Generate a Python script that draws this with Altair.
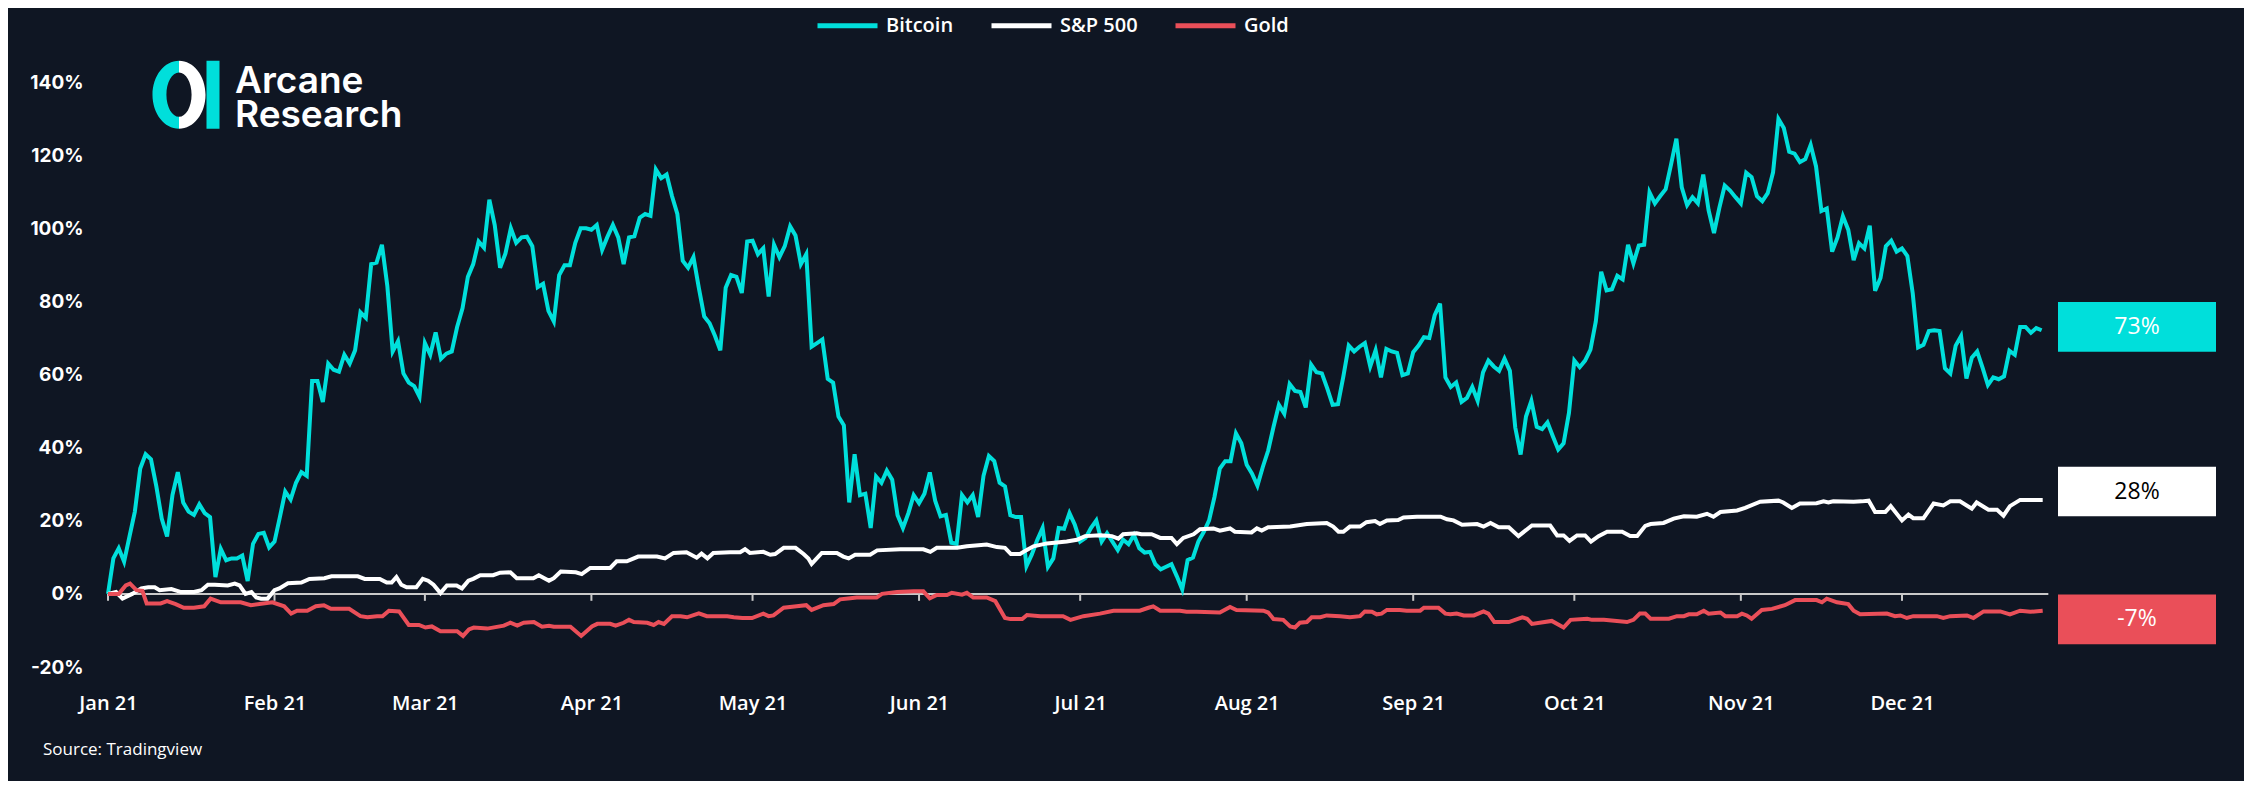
import altair as alt
import pandas as pd

BG = "#0f1623"
TEAL = "#00dfdb"
RED = "#ea4f59"
WHITE = "#ffffff"

# Bitcoin, % change since 1 Jan 2021, one value per day from 1 Jan
btc = [0, 9.7, 12.5, 8.8, 15.7, 22.5, 34.3, 38.2, 36.8, 29.4,
       20.6, 15.7, 27, 33.3, 25, 22.5, 21.6, 24.5, 22.1, 21,
       4.6, 12.3, 9.2, 9.7, 9.7, 10.5, 3.5, 13.7, 16.4, 16.7,
       12.7, 14.3, 21, 28, 25.8, 30.4, 33.3, 32.3, 58.2, 58.2,
       52.5, 63, 61.3, 60.8, 65.4, 63, 66.6, 77, 75.5, 90.2,
       90.6, 95.5, 84.3, 66.3, 69.1, 60.3, 57.8, 56.8, 53.9, 68.6,
       65.4, 71.5, 64.3, 65.7, 66.3, 73, 78.1, 86.7, 90.2, 96.4,
       94.7, 107.8, 100.9, 89.2, 93.1, 100, 96, 97.5, 97.7, 95.1,
       83.9, 84.8, 77.4, 74.5, 87.2, 89.9, 89.9, 96, 100, 100,
       99.6, 100.9, 94.1, 97.7, 100.9, 97.5, 90.2, 97.5, 97.8, 102.9,
       103.9, 103.4, 116.1, 113.7, 114.7, 108.8, 103.9, 91.1, 89.2, 92.1,
       83.7, 75.9, 74, 70.6, 66.6, 83.7, 87.2, 86.7, 82.3, 96.4,
       96.6, 92.9, 94.5, 81.3, 95.5, 92.1, 95.1, 100.5, 98, 90.2,
       92.9, 67.6, 68.6, 69.6, 58.8, 57.8, 48.5, 46.1, 25, 38.2,
       27, 27.4, 18, 32.1, 30.4, 33.7, 31.2, 21.5, 18, 22,
       27, 24.8, 27.4, 33.2, 25.5, 21.2, 21.6, 14, 13.7, 27,
       25, 27, 21, 32.3, 37.7, 36.3, 30.4, 29.4, 21.5, 21,
       21, 7.6, 10.8, 14.7, 18, 7.4, 9.7, 18, 17.8, 22.1,
       18.9, 14.3, 15.3, 18, 20.1, 14.3, 16.6, 14.3, 12, 14.8,
       13.6, 16.1, 12.5, 11.3, 11.5, 8.1, 6.7, 7.4, 8.1, 4.8,
       1.2, 9.2, 9.9, 14.3, 16.9, 20.1, 26.5, 34.3, 36.3, 36.3,
       43.9, 41.2, 35.3, 32.9, 29.6, 34.7, 39.2, 45.7, 51.7, 49.3,
       57.4, 55.5, 55.2, 51, 62.7, 60.6, 60.3, 56.2, 51.7, 51.9,
       59.5, 67.9, 66.3, 67.6, 68.6, 62.2, 66.6, 59.2, 67, 66.3,
       65.9, 59.8, 60.3, 66.1, 67.9, 70.2, 70, 76.2, 79.4, 59.2,
       56.6, 57.8, 52.5, 53.6, 56.6, 52.8, 60.6, 63.8, 62.2, 61,
       64.3, 61, 45.5, 38.1, 48.5, 52.8, 45.7, 45.1, 46.9, 43.1,
       39.5, 41.2, 49.5, 63.8, 62, 63.8, 66.8, 74.5, 88.1, 83,
       83.3, 87, 86, 95.5, 90.4, 95.3, 95.5, 109.8, 106.8, 108.8,
       110.7, 117.4, 124.5, 111.2, 106.3, 108.5, 106.8, 114.7, 104.9, 98.7,
       105.6, 111.7, 110.3, 108.5, 106.8, 115.2, 114, 108.8, 107.4, 109.6,
       115.3, 129.9, 127.4, 120.9, 120.4, 118.1, 118.9, 122.8, 116.9, 104.7,
       105.4, 93.6, 97.5, 103.3, 99.6, 91.3, 95.9, 94.5, 100.7, 82.9,
       86.4, 95.1, 96.6, 93.6, 94.5, 92.4, 82.2, 67.4, 68.1, 71.9,
       72.1, 71.9, 61.7, 60.3, 67.9, 70.5, 58.9, 64.6, 66.3, 61.9,
       57.1, 59.2, 58.7, 59.5, 66.5, 65.4, 73, 73, 71.4, 72.7,
       72.1]

# S&P 500: (days since 1 Jan, % change)
sp_days = [0, 1.5, 2.7, 4.5, 6.2, 7.5, 8.7, 9.6, 11.8, 13.6, 16, 17.4, 18.6, 19.9, 22.3, 23.6, 24.5,
           25.6, 26.7, 27.6, 28.5, 29.7, 31, 31.9, 33.5, 36, 37.5, 40.3, 41.6, 46.5, 47.8, 50.6, 51.9,
           52.8, 53.7, 54.6, 55.6, 57.4, 58.6, 59.6, 60.6, 61.9, 63.1, 64.9, 65.9, 67.1, 68, 69.3, 71.7,
           73, 74.9, 76.1, 79.2, 80.2, 82.1, 83, 84.3, 87.1, 88.2, 89.8, 93.5, 94.7, 96.6, 98.7, 102.2,
           103.7, 105.3, 107.7, 109.6, 110.5, 111.6, 112.7, 115.8, 117.7, 118.6, 119.5, 122, 123.3, 124.2,
           125.8, 128, 129.5, 130.4, 131, 132.9, 135.7, 136.9, 137.9, 139.1, 141.9, 143.2, 147.5, 151.8,
           153.1, 154.3, 158.1, 159.9, 163.6, 165.5, 167, 168.1, 169.8, 170.9, 172.3, 174.8, 178.5, 180.4,
           181.9, 184.7, 186.9, 188.1, 189, 191.5, 192.4, 194.3, 195.9, 198, 199, 200.2, 202.1, 203.3,
           205.8, 207, 208.9, 209.8, 212.9, 213.9, 214.8, 216, 220.1, 223.2, 226.9, 228.1, 229.1, 230,
           231.2, 233.1, 234.3, 235.9, 236.8, 238.1, 240.2, 241.2, 243.7, 248.1, 249.3, 250.5, 252.1,
           254.9, 256.1, 257.4, 258.9, 260.8, 262.6, 265.1, 268.5, 269.8, 271, 272.1, 273.5, 275, 276.1,
           277.5, 279.1, 281.9, 283.4, 284.7, 286.2, 287.2, 289.6, 291.5, 293.4, 295.8, 297.7, 298.9,
           300.2, 303.3, 304.8, 307.6, 311, 311.9, 313.5, 315, 318.1, 319.4, 320.3, 321.2, 325, 326.5,
           327.8, 329, 330.9, 331.9, 334, 335.2, 336.1, 338, 339.9, 341.7, 343, 344.8, 347, 347.9, 350.1,
           351.7, 352.9, 354.1, 356, 360.2]
sp_vals = [0, 0.5, -1.3, 0, 1.5, 1.8, 1.8, 1, 1.3, 0.5, 0.5, 1, 2.5, 2.5, 2.3, 2.8, 2.3,
           0, 0.5, -1, -1.3, -1.3, 1, 1.5, 2.9, 3.1, 4.1, 4.3, 4.8, 4.8, 4.1, 4.1, 3.1,
           3.1, 4.6, 2.5, 1.8, 1.8, 4.1, 3.6, 2.5, 0.2, 2.3, 2.3, 1.5, 3.6, 4.1, 5.1, 5.1,
           5.8, 5.9, 4.3, 4.3, 5.1, 3.6, 4.3, 6.1, 5.9, 5.4, 7.1, 7.1, 8.9, 8.9, 10.2, 10.2,
           9.7, 11.2, 11.4, 9.9, 11, 9.7, 11.2, 11.4, 11.4, 12.2, 11.2, 11.5, 10.7, 10.9,
           12.6, 12.6, 10.9, 9.7, 8.2, 11.2, 11.2, 10.2, 9.7, 10.7, 10.7, 11.9, 12.2, 12.2,
           11.5, 12.6, 12.6, 13, 13.5, 12.8, 12.6, 10.9, 10.9, 11.9, 13, 13.8, 14.3, 14.8,
           15.8, 16, 15.8, 15.1, 16.3, 16.6, 16.3, 16.3, 15.3, 15.3, 13.6, 15.3, 16.3, 17.7,
           17.9, 17.3, 17.9, 17, 16.8, 17.9, 17.3, 18.2, 18.4, 19.1, 19.4, 18.4, 17, 17,
           18.4, 18.4, 19.6, 19.9, 19.1, 20.1, 20.2, 20.9, 21.1, 21.1, 20.4, 20.1, 18.9,
           19.1, 18.4, 19.4, 18.2, 18.2, 15.8, 18.7, 18.7, 16, 16, 14.5, 16, 16, 14.3,
           15.8, 17, 17, 15.8, 15.8, 18.6, 19.1, 19.4, 20.6, 21.2, 21.1, 21.9, 21.1,
           22.4, 22.8, 23.5, 25.2, 25.5, 25, 23.5, 24.7, 24.8, 25.3, 25, 25.3, 25.2, 25.3,
           25.5, 22.4, 22.4, 24, 20.1, 21.7, 20.7, 20.7, 24.7, 24.2, 25.3, 25.3, 23.3, 25, 23,
           23, 21.4, 24, 25.7, 25.7]

# Gold: (days since 1 Jan, % change)
gold_days = [0, 2, 3.3, 4.1, 5.3, 6.4, 7.2, 9.8, 11, 12.6, 14.1, 16, 17.9, 19.1, 21, 24.7, 26.6,
             30.6, 32.8, 34.1, 35.2, 37.1, 38.7, 40.2, 41.5, 44.9, 47, 48.3, 50.1, 51.1, 52.3, 54.2,
             56, 57.9, 59.1, 60.3, 61.9, 65, 66.1, 67.2, 68.1, 70.6, 73.7, 74.9, 76.2, 77.4, 79.3,
             80.8, 82.1, 83, 86.1, 88.1, 90.1, 91.1, 93.5, 94.5, 96, 97, 97.9, 100.4, 101.6, 102.5,
             103.5, 105, 106.6, 107.8, 110, 111.5, 113.4, 115.3, 116.5, 118.1, 119.9, 122, 123,
             123.9, 125.8, 128.2, 130, 131, 133.2, 135.1, 136.3, 138.2, 139.4, 143.1, 144.1, 146.9,
             150, 151.8, 153, 154.3, 156.2, 157.1, 159, 159.9, 161.1, 163.6, 165.2, 167, 168, 170.2,
             171.1, 173.6, 177.8, 179.2, 181.6, 184.7, 187.2, 192.1, 193.7, 194.6, 195.9, 199.6,
             200.8, 202.7, 207, 208.9, 210.1, 215.1, 216, 217, 218.8, 220.1, 221, 221.9, 223.2,
             224.1, 225.7, 226.9, 229.4, 231.2, 233.1, 234, 235.3, 236.2, 237.1, 238.1, 240.5,
             241.8, 244.3, 245, 247.7, 249, 249.9, 251.1, 252.4, 254.3, 256.1, 257, 258.1, 260.8,
             263.3, 264.2, 265.1, 268.8, 271, 272.3, 275.4, 276.3, 278.5, 282.8, 284, 285.2, 286.2,
             287.2, 290.6, 292.1, 293.4, 294.3, 295.8, 297.1, 298, 300.2, 301.1, 303.3, 304.2,
             305.1, 306, 307.9, 309.8, 312.2, 314.1, 318.1, 319.1, 320, 321.9, 324, 325, 326.2,
             331.2, 332.7, 333.7, 334.9, 336.1, 340.5, 341.7, 343, 346.1, 347.3, 349.2, 352.3,
             354.1, 356, 357.9, 360.2]
gold_vals = [0, 0, 2.3, 2.8, 1, 0.8, -2.6, -2.6, -2, -2.8, -3.8, -3.8, -3.4, -1.3, -2.3, -2.3, -3.1,
             -2.3, -3.4, -5.4, -4.6, -4.6, -3.4, -3.1, -4.1, -4.1, -6.1, -6.4, -6.1, -6.1, -4.6, -4.8,
             -8.5, -8.5, -9.2, -8.9, -10.2, -10.2, -11.5, -9.7, -9.2, -9.5, -8.7, -7.9, -8.7, -7.9, -7.7,
             -9, -8.7, -9, -9, -11.5, -8.9, -8.2, -8.2, -8.7, -7.9, -7.1, -7.7, -7.9, -8.5, -7.7,
             -8.2, -6.1, -6.1, -6.4, -5.3, -6.1, -6.1, -6.1, -6.4, -6.6, -6.6, -5.4, -6.1,
             -5.9, -3.8, -3.4, -3.1, -4.4, -3.1, -2.8, -1.5, -1.2, -1, -1, 0, 0.5,
             0.7, 0.7, -1.2, -0.3, -0.3, 0.3, -0.2, 0.3, -1, -1, -2, -6.6, -6.9, -6.9,
             -5.8, -6.1, -6.1, -7.1, -6.1, -5.4, -4.6, -4.6, -3.8, -3.4, -4.6, -4.6,
             -4.9, -4.9, -5.1, -3.6, -4.4, -4.6, -5.1, -6.9, -7.1, -8.9, -9.2, -7.9, -7.7,
             -6.4, -6.4, -5.9, -6.1, -6.4, -6.1, -4.8, -4.9, -5.6, -5.4, -4.4, -4.4,
             -4.6, -4.6, -3.8, -3.8, -5.4, -5.6, -5.4, -5.9, -5.9, -4.8, -5.4, -7.7, -7.7,
             -6.4, -6.8, -8.2, -7.4, -9.2, -7.1, -6.8, -7.1, -7.1, -7.7, -7.1, -5.4, -5.4,
             -6.8, -6.8, -6.1, -6.1, -5.6, -5.6, -4.6, -5.4, -5.1, -6.1, -6.1, -5.4,
             -5.9, -6.8, -4.4, -4.1, -3.1, -1.7, -1.7, -2.3, -1.3, -2.3, -2.8, -4.6, -5.6,
             -5.4, -6.1, -5.9, -6.6, -6.1, -6.1, -6.6, -6.1, -5.9, -6.6, -4.8, -4.8,
             -5.6, -4.6, -4.9, -4.6]

SERIES = ["Bitcoin", "S&P 500", "Gold"]
COLORS = [TEAL, WHITE, RED]
END_LABELS = [73, 28, -7]
END_TEXT = ["73%", "28%", "-7%"]
END_TEXT_COLORS = [WHITE, "#000000", WHITE]
MONTHS = list(range(1, 13))

BASE = pd.Timestamp("2021-01-01")
FMT = "%Y-%m-%dT%H:%M:%S"


def frame(days, vals, name):
    ts = BASE + pd.to_timedelta(pd.Series(days, dtype=float), unit="D")
    return pd.DataFrame({"date": ts.dt.strftime(FMT), "value": vals, "series": name})


btc_df = frame(list(range(len(btc))), btc, "Bitcoin")
sp_df = frame(sp_days, sp_vals, "S&P 500")
gold_df = frame(gold_days, gold_vals, "Gold")

W, H = 1939, 585
x_dom = [alt.DateTime(year=2021, month=1, date=1), alt.DateTime(year=2021, month=12, date=28)]
x_scale = alt.Scale(domain=x_dom)
y_scale = alt.Scale(domain=[-20, 140], nice=False, zero=False)

x_axis = alt.Axis(
    values=[alt.DateTime(year=2021, month=m, date=1) for m in MONTHS],
    format="%b %y", title=None, grid=False, domain=False, ticks=False,
    labelFont="Open Sans", labelFontWeight=600, labelFontSize=20, labelColor=WHITE,
    labelPadding=26, labelFlush=False, labelOverlap=False,
)
y_axis = alt.Axis(
    values=[-20, 0, 20, 40, 60, 80, 100, 120, 140], labelExpr="datum.value + '%'",
    title=None, grid=False, domain=False, ticks=False,
    labelFont="Inter", labelFontWeight=700, labelFontSize=19, labelColor=WHITE,
    labelPadding=25,
)

color = alt.Color(
    "series:N",
    scale=alt.Scale(domain=SERIES, range=COLORS),
    legend=alt.Legend(
        orient="none", legendX=707, legendY=-89, direction="horizontal", title=None,
        symbolType="stroke", symbolStrokeWidth=5, symbolSize=3600,
        labelFont="Open Sans", labelFontWeight=600, labelFontSize=20, labelColor=WHITE,
        labelOffset=6, columnPadding=27,
    ),
)


def line_layer(df):
    return alt.Chart(df).mark_line(strokeWidth=4).encode(
        x=alt.X("date:T", scale=x_scale, axis=x_axis),
        y=alt.Y("value:Q", scale=y_scale, axis=y_axis),
        color=color,
    )


zero_df = pd.DataFrame({"a": ["2021-01-01T00:00:00"], "b": ["2021-12-28T06:00:00"]})
zero_line = alt.Chart(zero_df).mark_rule(color="#c9c9c9", strokeWidth=2).encode(
    x=alt.X("a:T", scale=x_scale), x2="b:T", y=alt.datum(0, scale=y_scale)
)

tick_df = pd.DataFrame({"m": [pd.Timestamp(2021, m, 1).strftime(FMT) for m in MONTHS]})
month_ticks = alt.Chart(tick_df).mark_rule(color="#c9c9c9", strokeWidth=2).encode(
    x=alt.X("m:T", scale=x_scale), y=alt.datum(0), y2=alt.datum(-1.9)
)

lab_df = pd.DataFrame({"v": END_LABELS, "t": END_TEXT, "fill": COLORS, "tc": END_TEXT_COLORS})
boxes = alt.Chart(lab_df).transform_calculate(
    hi="datum.v + 6.8", lo="datum.v - 6.8"
).mark_rect().encode(
    x=alt.value(1950), x2=alt.value(2108),
    y=alt.Y("hi:Q", scale=y_scale), y2="lo:Q",
    fill=alt.Fill("fill:N", scale=None),
)
box_text = alt.Chart(lab_df).mark_text(font="Open Sans", fontSize=23, fontWeight=500).encode(
    x=alt.value(2029), y=alt.Y("v:Q", scale=y_scale), text="t:N",
    color=alt.Color("tc:N", scale=None),
)

one = pd.DataFrame({"k": [0]})
LEFT_HALF = "M0,-1 A0.78,1 0 0 0 0,1 L0,0.65 A0.37,0.65 0 0 1 0,-0.65 Z"
RIGHT_HALF = "M0,-1 A0.78,1 0 0 1 0,1 L0,0.65 A0.37,0.65 0 0 0 0,-0.65 Z"
logo_left = alt.Chart(one).mark_point(
    shape=LEFT_HALF, filled=True, fill=TEAL, strokeWidth=0, opacity=1, size=4624
).encode(x=alt.value(71), y=alt.value(12.7))
logo_right = alt.Chart(one).mark_point(
    shape=RIGHT_HALF, filled=True, fill=WHITE, strokeWidth=0, opacity=1, size=4624
).encode(x=alt.value(71), y=alt.value(12.7))
logo_bar = alt.Chart(one).mark_rect(color=TEAL).encode(
    x=alt.value(98.5), x2=alt.value(111.5), y=alt.value(-21.3), y2=alt.value(46.7)
)
logo_t1 = alt.Chart(one).mark_text(
    text="Arcane", font="Inter", fontSize=37, fontWeight=600, color=WHITE,
    align="left", baseline="alphabetic",
).encode(x=alt.value(127), y=alt.value(11.3))
logo_t2 = alt.Chart(one).mark_text(
    text="Research", font="Inter", fontSize=37, fontWeight=600, color=WHITE,
    align="left", baseline="alphabetic",
).encode(x=alt.value(127), y=alt.value(45.3))

source = alt.Chart(one).mark_text(
    text="Source: Tradingview", font="Open Sans", fontSize=17, color=WHITE,
    align="left", baseline="middle",
).encode(x=alt.value(-65), y=alt.value(668))

chart = alt.layer(
    zero_line, month_ticks,
    line_layer(btc_df), line_layer(sp_df), line_layer(gold_df),
    boxes, box_text,
    logo_left, logo_right, logo_bar, logo_t1, logo_t2, source,
).properties(
    width=W, height=H,
    autosize=alt.AutoSizeParams(type="none"),
    padding={"left": 100, "top": 74, "right": 197, "bottom": 114},
).configure(background=BG).configure_view(stroke=None)

chart.save("out.html", embed_options={"renderer": "svg", "actions": False})
